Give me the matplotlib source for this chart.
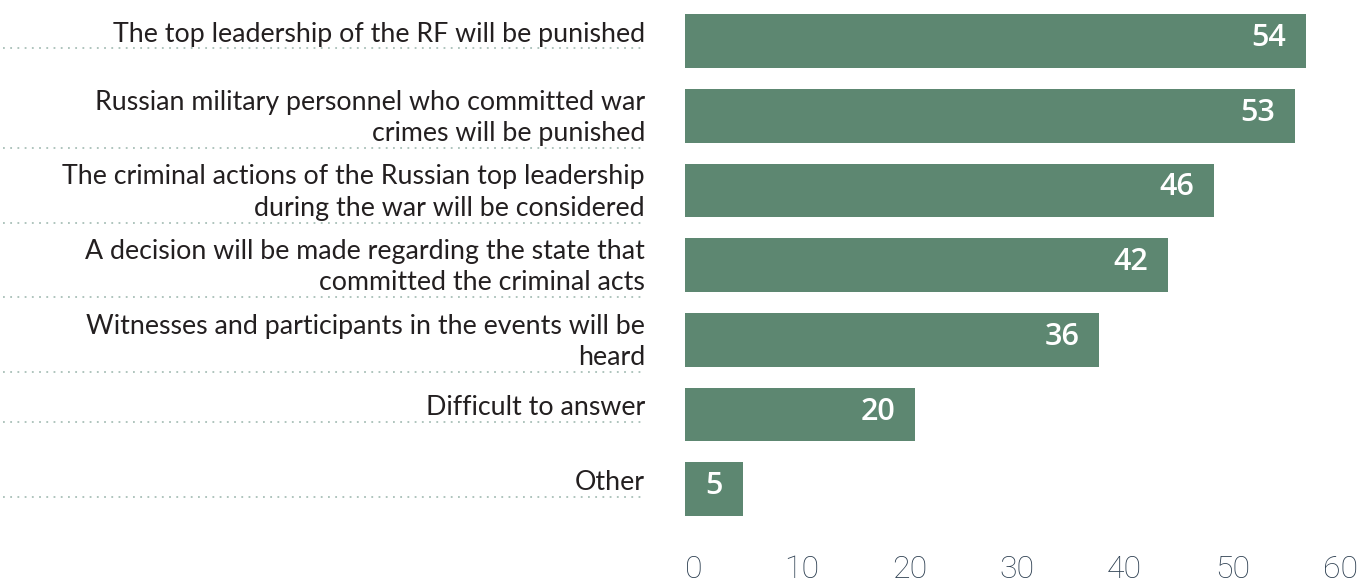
import matplotlib.pyplot as plt
import matplotlib.transforms as mtransforms

# survey answers, top to bottom
answers = [
    "The top leadership of the RF will be punished",
    "Russian military personnel who committed war\ncrimes will be punished",
    "The criminal actions of the Russian top leadership\nduring the war will be considered",
    "A decision will be made regarding the state that\ncommitted the criminal acts",
    "Witnesses and participants in the events will be\nheard",
    "Difficult to answer",
    "Other",
]
shares = [54, 53, 46, 42, 36, 20, 5]
tick_values = [0, 10, 20, 30, 40, 50, 60]

bar_color = "#5d8771"
dot_color = "#a8bfb7"
text_color = "#231f20"
tick_color = "#2c3e50"

W, H = 1362, 588
fig = plt.figure(figsize=(W / 100, H / 100), dpi=100)

# bars area sits on the right half of the figure
ax = fig.add_axes([685 / W, 58 / H, 677 / W, 530 / H])
ypos = list(range(len(answers)))
ax.barh(ypos, shares, height=0.72, color=bar_color)
ax.set_xlim(0, 677 / 11.5)
ax.set_ylim(-0.549 + 530 / 74.7, -0.549)
ax.axis("off")

for y, v in zip(ypos, shares):
    ax.text(v - 1.7, y - 0.04, str(v), ha="right", va="center", color="white",
            fontsize=22, fontweight="semibold", family="Open Sans")

# answer texts with dotted leader lines underneath
trans = mtransforms.blended_transform_factory(fig.transFigure, ax.transData)
for y, label in zip(ypos, answers):
    n_lines = label.count("\n") + 1
    dot_y = y + (0.1 if n_lines == 1 else 0.43)
    ax.plot([0.002, 645 / W], [dot_y, dot_y], transform=trans, clip_on=False,
            color=dot_color, linestyle=(0, (1, 3)), linewidth=1.3)
    ax.text(645 / W, dot_y - 0.025, label, transform=trans, ha="right", va="bottom",
            multialignment="right", color=text_color, fontsize=19.3,
            family="Lato", linespacing=1.32)

# scale along the bottom
tick_ax = ax.twiny()
tick_ax.set_xlim(-9 / 10.77, (677 - 9) / 10.77)
tick_ax.set_xticks(tick_values)
tick_ax.xaxis.set_ticks_position("bottom")
tick_ax.xaxis.set_label_position("bottom")
tick_ax.tick_params(axis="x", length=0, pad=18, labelsize=23, labelcolor=tick_color)
for lab in tick_ax.get_xticklabels():
    lab.set_fontfamily("Roboto")
    lab.set_fontweight("light")
tick_ax.set_yticks([])
for s in tick_ax.spines.values():
    s.set_visible(False)
tick_ax.patch.set_visible(False)

fig.savefig("out.png", dpi=100)
